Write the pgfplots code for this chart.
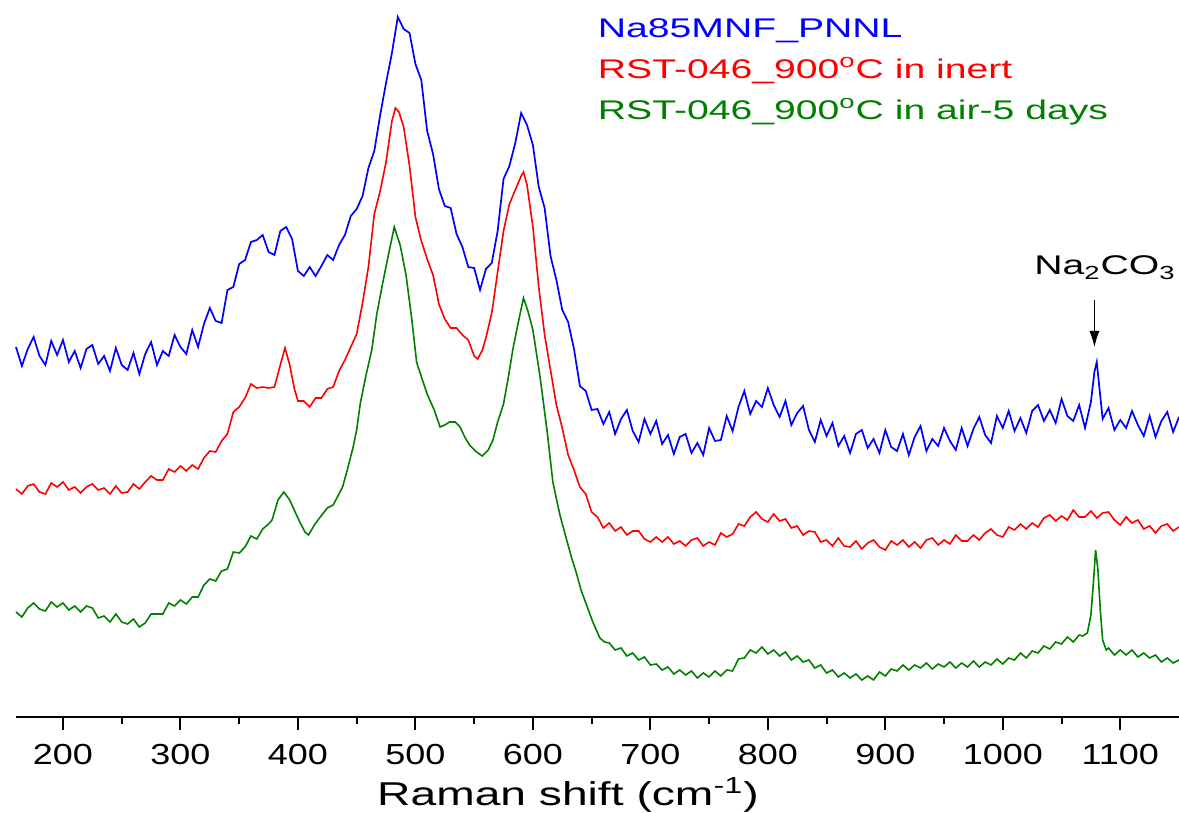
\documentclass[border=0pt]{standalone}
\usepackage{fontspec}
\usepackage{pgfplots}
\pgfplotsset{compat=1.18}
\usetikzlibrary{arrows.meta}
\setmainfont{Liberation Sans}
\newfontfamily\tickfont[FakeStretch=1.24]{Liberation Sans}
\newfontfamily\labfont[FakeStretch=1.4]{Liberation Sans}
\newfontfamily\legfont[FakeStretch=1.45]{Liberation Sans}
\definecolor{cblue}{RGB}{0,0,255}
\definecolor{cred}{RGB}{255,0,0}
\definecolor{cgreen}{RGB}{0,128,0}

\begin{document}
\begin{tikzpicture}
\useasboundingbox (0,0) rectangle (589.5pt,406.5pt);
\begin{axis}[
  at={(8pt,48pt)}, anchor=south west,
  scale only axis, width=581.5pt, height=358.5pt,
  xmin=160, xmax=1150, ymin=0, ymax=717,
  axis x line=bottom, hide y axis,
  x axis line style={-, line width=1pt},
  xtick={200,300,...,1100}, minor x tick num=1,
  xtick align=outside, major tick length=6.5pt, minor tick length=3.5pt,
  every tick/.style={black, line width=1pt},
  ytick=\empty,
  /pgf/number format/1000 sep={},
  xticklabel={\tickfont\fontsize{14.5}{16}\selectfont\pgfmathprintnumber[assume math mode=true]{\tick}},
  xticklabel style={anchor=north, inner sep=0pt, yshift=-7pt},
  xlabel={Raman shift (cm\textsuperscript{-1})},
  xlabel style={font=\labfont\fontsize{16.5}{18}\selectfont, at={(rel axis cs:0.4746,0)},
    anchor=base, inner sep=0pt, yshift=-44.5pt},
  clip=false,
  legend style={at={(rel axis cs:0.5,0.985)}, anchor=north west, draw=none, fill=none,
    xshift=-3pt, yshift=-1pt,
    font=\legfont\fontsize{13.5}{15}\selectfont, row sep=7.5pt,
    nodes={inner sep=0pt, text height=10pt, text depth=3pt}},
  legend cell align=left,
  legend image code/.code={},
]
\addplot[cblue, line width=0.85pt] coordinates {
(160,370)(165,351)(170,368)(175,380)(180,361)(185,352)(190,376)(195,362)(200,377)(205,355)
(210,366)(215,349)(220,368)(225,372)(230,353)(235,361)(240,346)(245,369)(250,352)(255,347)
(260,364)(265,343)(270,363)(275,375)(280,352)(285,366)(290,361)(295,382)(300,370)(305,363)
(310,387)(315,370)(320,393)(325,409)(330,396)(335,394)(340,427)(345,430)(350,453)(355,457)
(360,475)(365,477)(370,482)(375,465)(380,462)(385,486)(390,490)(395,478)(400,446)(405,441)
(410,450)(415,441)(420,451)(425,462)(430,457)(435,472)(440,482)(445,501)(450,508)(455,521)
(460,549)(465,566)(470,602)(475,634)(480,664)(485,700)(490,688)(495,684)(500,653)(505,637)
(510,586)(515,563)(520,528)(525,511)(530,509)(535,483)(540,470)(545,450)(550,449)(555,427)
(560,448)(565,454)(570,486)(575,538)(580,551)(585,574)(590,604)(595,592)(600,572)(605,530)
(610,509)(615,461)(620,437)(625,407)(630,395)(635,368)(640,331)(645,326)(650,307)(655,308)
(660,293)(665,305)(670,283)(675,298)(680,307)(685,286)(690,275)(695,298)(700,283)(705,296)
(710,273)(715,282)(720,263)(725,280)(730,283)(735,264)(740,274)(745,262)(750,289)(755,276)
(760,277)(765,301)(770,286)(775,310)(780,326)(785,303)(790,316)(795,310)(800,329)(805,312)
(810,300)(815,316)(820,292)(825,304)(830,311)(835,287)(840,275)(845,297)(850,281)(855,294)
(860,271)(865,281)(870,264)(875,283)(880,287)(885,269)(890,278)(895,264)(900,287)(905,270)
(910,266)(915,283)(920,262)(925,280)(930,291)(935,266)(940,278)(945,271)(950,289)(955,276)
(960,267)(965,289)(970,271)(975,288)(980,300)(985,282)(990,274)(995,301)(1000,289)(1005,306)
(1010,286)(1015,299)(1020,284)(1025,306)(1030,312)(1035,296)(1040,307)(1045,294)(1050,318)(1055,301)
(1060,296)(1065,312)(1070,289)(1075,315)(1078,345)(1080,355)(1082,332)(1085,298)(1090,309)(1095,287)
(1100,297)(1105,289)(1110,306)(1115,292)(1120,281)(1125,301)(1130,280)(1135,296)(1140,305)(1145,285)
(1150,300)
};
\addlegendentry{\textcolor{cblue}{Na85MNF\_PNNL}}
\addplot[cred, line width=0.8pt] coordinates {
(160,228)(165,223)(170,231)(175,233)(180,225)(185,223)(190,234)(195,230)(200,235)(205,227)
(210,230)(215,224)(220,230)(225,233)(230,227)(235,229)(240,223)(245,231)(250,224)(255,225)
(260,233)(265,228)(270,235)(275,241)(280,237)(285,237)(290,248)(295,245)(300,251)(305,246)
(310,252)(315,248)(320,259)(325,266)(330,265)(335,276)(340,283)(345,305)(350,310)(355,319)
(360,333)(365,329)(370,330)(375,329)(380,330)(385,352)(389,369)(393,352)(397,328)(400,316)
(405,316)(410,310)(415,319)(420,319)(425,328)(430,330)(435,346)(440,357)(445,370)(450,383)
(455,414)(460,450)(465,503)(470,526)(475,555)(480,596)(483,609)(486,605)(490,590)(495,551)
(500,500)(505,476)(510,458)(515,442)(520,413)(525,398)(530,389)(535,389)(540,382)(545,377)
(550,361)(553,358)(557,367)(560,379)(565,404)(570,445)(575,486)(580,513)(585,527)(590,541)
(592,545)(595,532)(600,490)(605,430)(610,382)(615,347)(620,312)(625,289)(630,262)(635,247)
(640,230)(645,223)(650,205)(655,200)(660,189)(665,194)(670,186)(675,190)(680,182)(685,186)
(690,186)(695,178)(700,175)(705,180)(710,175)(715,180)(720,173)(725,176)(730,171)(735,177)
(740,179)(745,171)(750,175)(755,172)(760,184)(765,180)(770,183)(775,193)(780,191)(785,200)
(790,205)(795,198)(800,195)(805,203)(810,196)(815,198)(820,189)(825,191)(830,182)(835,186)
(840,185)(845,175)(850,177)(855,171)(860,179)(865,171)(870,170)(875,176)(880,168)(885,174)
(890,177)(895,170)(900,167)(905,176)(910,172)(915,177)(920,170)(925,175)(930,169)(935,177)
(940,179)(945,172)(950,177)(955,173)(960,182)(965,176)(970,176)(975,182)(980,177)(985,184)
(990,188)(995,182)(1000,180)(1005,190)(1010,187)(1015,193)(1020,188)(1025,194)(1030,190)(1035,199)
(1040,202)(1045,196)(1050,201)(1055,197)(1060,207)(1065,200)(1070,200)(1075,206)(1080,199)(1085,204)
(1090,205)(1095,197)(1100,192)(1105,200)(1110,194)(1115,197)(1120,188)(1125,191)(1130,184)(1135,191)
(1140,193)(1145,186)(1150,190)
};
\addlegendentry{\textcolor{cred}{RST-046\_900\textsuperscript{o}C in inert}}
\addplot[cgreen, line width=0.8pt] coordinates {
(160,105)(165,100)(170,109)(175,114)(180,108)(185,106)(190,115)(195,110)(200,114)(205,107)
(210,111)(215,105)(220,111)(225,109)(230,99)(235,101)(240,95)(245,103)(250,95)(255,93)
(260,98)(265,90)(270,94)(275,103)(280,103)(285,103)(290,114)(295,111)(300,117)(305,113)
(310,120)(315,120)(320,132)(325,138)(330,136)(335,146)(340,148)(345,165)(350,164)(355,170)
(360,181)(365,178)(370,188)(375,193)(378,197)(383,217)(388,225)(393,217)(398,204)(402,194)
(406,185)(409,182)(414,192)(419,200)(425,209)(430,212)(434,221)(438,230)(442,247)(447,270)
(450,287)(453,313)(458,342)(463,368)(467,402)(472,433)(477,462)(482,490)(487,472)(492,442)
(497,397)(501,355)(506,337)(510,323)(516,307)(521,290)(525,292)(529,295)(534,295)(538,290)
(542,280)(546,272)(552,265)(557,261)(562,267)(566,277)(570,295)(575,313)(579,339)(583,368)
(588,397)(592,419)(596,405)(600,387)(606,341)(612,287)(617,235)(623,202)(629,176)(633,159)
(637,144)(641,127)(646,111)(651,95)(657,79)(661,75)(665,74)(670,67)(675,69)(680,61)
(685,64)(690,57)(695,60)(700,52)(705,53)(710,47)(715,50)(720,43)(725,47)(730,42)
(735,46)(740,39)(745,44)(750,40)(755,46)(760,41)(765,47)(770,46)(775,58)(780,59)
(785,67)(790,64)(795,70)(800,63)(805,67)(810,61)(815,65)(820,57)(825,61)(830,55)
(835,57)(840,49)(845,52)(850,44)(855,47)(860,40)(865,44)(870,39)(875,43)(880,37)
(885,41)(890,37)(895,45)(900,41)(905,48)(910,46)(915,52)(920,47)(925,52)(930,49)
(935,54)(940,48)(945,53)(950,50)(955,55)(960,49)(965,54)(970,50)(975,56)(980,50)
(985,55)(990,52)(995,58)(1000,53)(1005,59)(1010,57)(1015,64)(1020,59)(1025,66)(1030,64)
(1035,71)(1040,68)(1045,75)(1050,73)(1055,80)(1060,75)(1065,82)(1068,81)(1072,84)(1075,102)
(1077,132)(1079,167)(1081,147)(1083,107)(1085,77)(1088,67)(1090,69)(1095,62)(1100,67)(1105,62)
(1110,67)(1115,60)(1120,64)(1125,59)(1130,62)(1135,55)(1140,59)(1145,54)(1150,57)
};
\addlegendentry{\textcolor{cgreen}{RST-046\_900\textsuperscript{o}C in air-5 days}}
\draw[-{Latex[length=8pt,width=5pt]}, line width=0.5pt, black] (axis cs:1078,417) -- (axis cs:1078,370);
\node[anchor=base, font=\legfont\fontsize{13.5}{15}\selectfont, inner sep=0pt] at (axis cs:1087,442) {Na\textsubscript{2}CO\textsubscript{3}};
\end{axis}
\end{tikzpicture}
\end{document}
